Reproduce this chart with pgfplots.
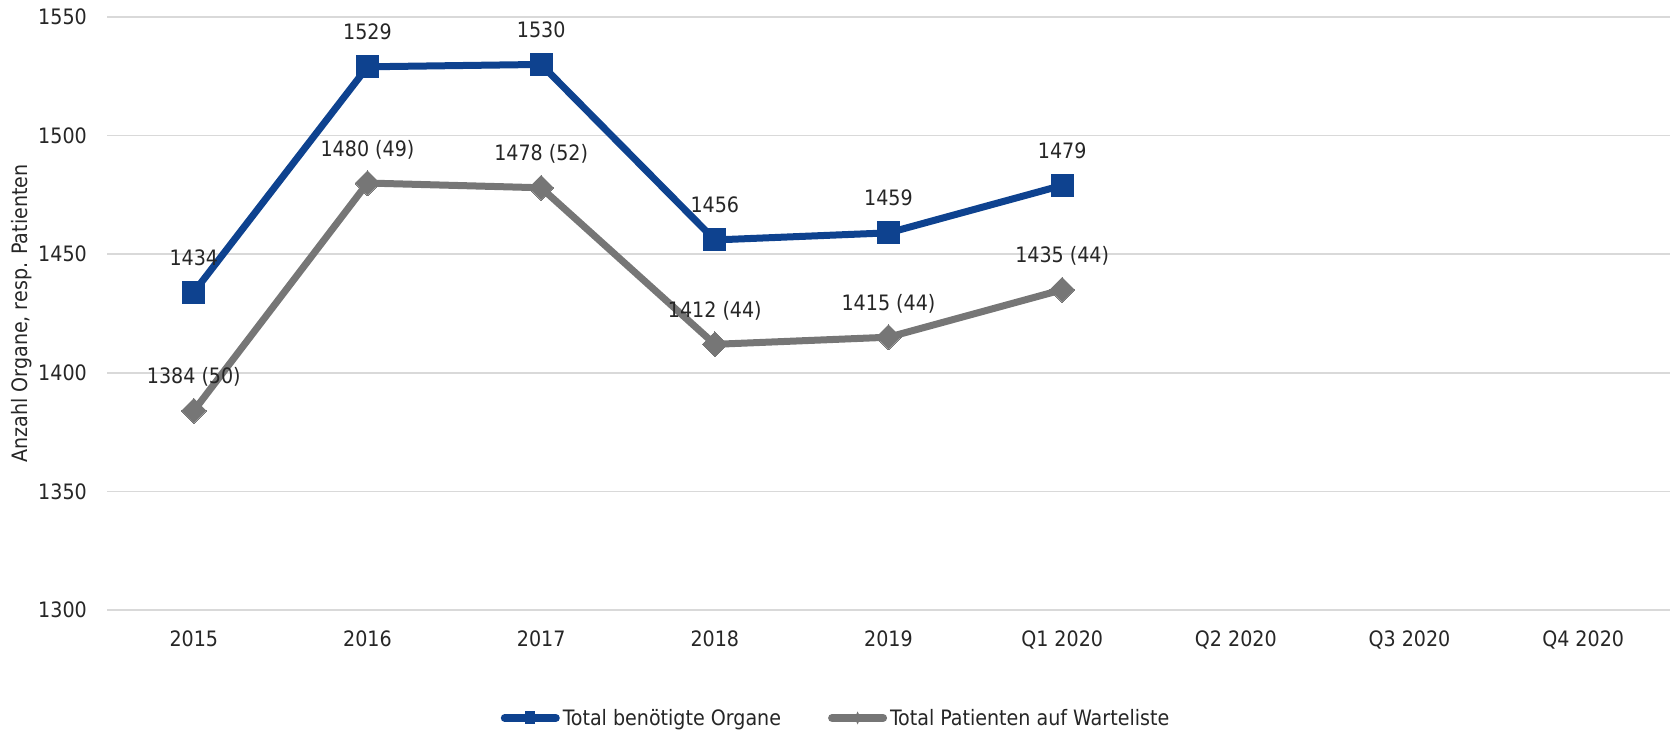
\documentclass[border=0pt]{standalone}
\usepackage{pgfplots}
\pgfplotsset{compat=1.18}
\usepackage{pgfplotstable}
\usepackage{fontspec}
\setmainfont{DejaVu Sans Condensed}

\definecolor{orgblue}{RGB}{14,66,143}
\definecolor{patgray}{RGB}{118,118,118}
\definecolor{gridgray}{RGB}{217,217,217}

\pgfplotstableread{
x y lab
0 1434 1434
1 1529 1529
2 1530 1530
3 1456 1456
4 1459 1459
5 1479 1479
}\organe

\pgfplotstableread{
x y lab
0 1384 {1384 (50)}
1 1480 {1480 (49)}
2 1478 {1478 (52)}
3 1412 {1412 (44)}
4 1415 {1415 (44)}
5 1435 {1435 (44)}
}\patienten

\newcommand\lblfont{\fontsize{21.3}{25}\selectfont}

\begin{document}
\begin{tikzpicture}
\path[use as bounding box] (0,0) rectangle (1673bp,730bp);
\begin{axis}[
  at={(107bp,120bp)}, anchor=south west,
  scale only axis,
  width=1563bp, height=593bp,
  xmin=-0.5, xmax=8.5,
  ymin=1300, ymax=1550,
  xtick={0,...,8},
  xticklabels={2015,2016,2017,2018,2019,Q1 2020,Q2 2020,Q3 2020,Q4 2020},
  ytick={1300,1350,...,1550},
  axis line style={draw=none},
  major tick length=0pt,
  ymajorgrids,
  grid style={gridgray, line width=1.5bp},
  /pgf/number format/assume math mode=true,
  /pgf/number format/1000 sep={},
  ticklabel style={font=\lblfont, text=black!85},
  yticklabel style={anchor=east, inner sep=0pt, xshift=-20bp},
  xticklabel style={anchor=base, inner sep=0pt, yshift=-36.5bp},
  ylabel={Anzahl Organe, resp. Patienten},
  ylabel style={at={(axis description cs:-0.0544,0.5)}, anchor=center, font=\lblfont, text=black!85},
  clip=false,
  nodes near coords,
  point meta=explicit symbolic,
  every node near coord/.append style={font=\lblfont, text=black!85, anchor=base, inner sep=0pt, yshift=27bp},
  legend columns=2,
  legend style={draw=none, at={(axis description cs:0.4658,-0.1821)}, anchor=center,
    font=\lblfont, text=black!85, inner sep=0pt,
    nodes={inner sep=0pt},
    /tikz/every odd column/.style={column sep=3bp},
    /tikz/every even column/.style={column sep=47bp}},
]
\addplot[orgblue, line width=7bp, mark=square*, mark size=11bp, mark options={line width=0pt},
  legend image code/.code={
    \draw[orgblue, line width=8bp, line cap=round] (4bp,0bp) -- (55bp,0bp);
    \path[fill=orgblue, draw=none] (24.5bp,-6.5bp) rectangle (34.5bp,6.5bp);}]
  table[x=x, y=y, meta=lab] {\organe};
\addlegendentry{Total benötigte Organe}
\addplot[patgray, line width=7bp, mark=diamond*, mark size=12.5bp, mark options={line width=0pt, xscale=1.333},
  legend image code/.code={
    \draw[patgray, line width=8bp, line cap=round] (4bp,0bp) -- (55bp,0bp);
    \path[fill=patgray, draw=none] (29.5bp,-6.5bp) -- (32.5bp,0bp) -- (29.5bp,6.5bp) -- (26.5bp,0bp) -- cycle;}]
  table[x=x, y=y, meta=lab] {\patienten};
\addlegendentry{Total Patienten auf Warteliste}
\end{axis}
\end{tikzpicture}
\end{document}
